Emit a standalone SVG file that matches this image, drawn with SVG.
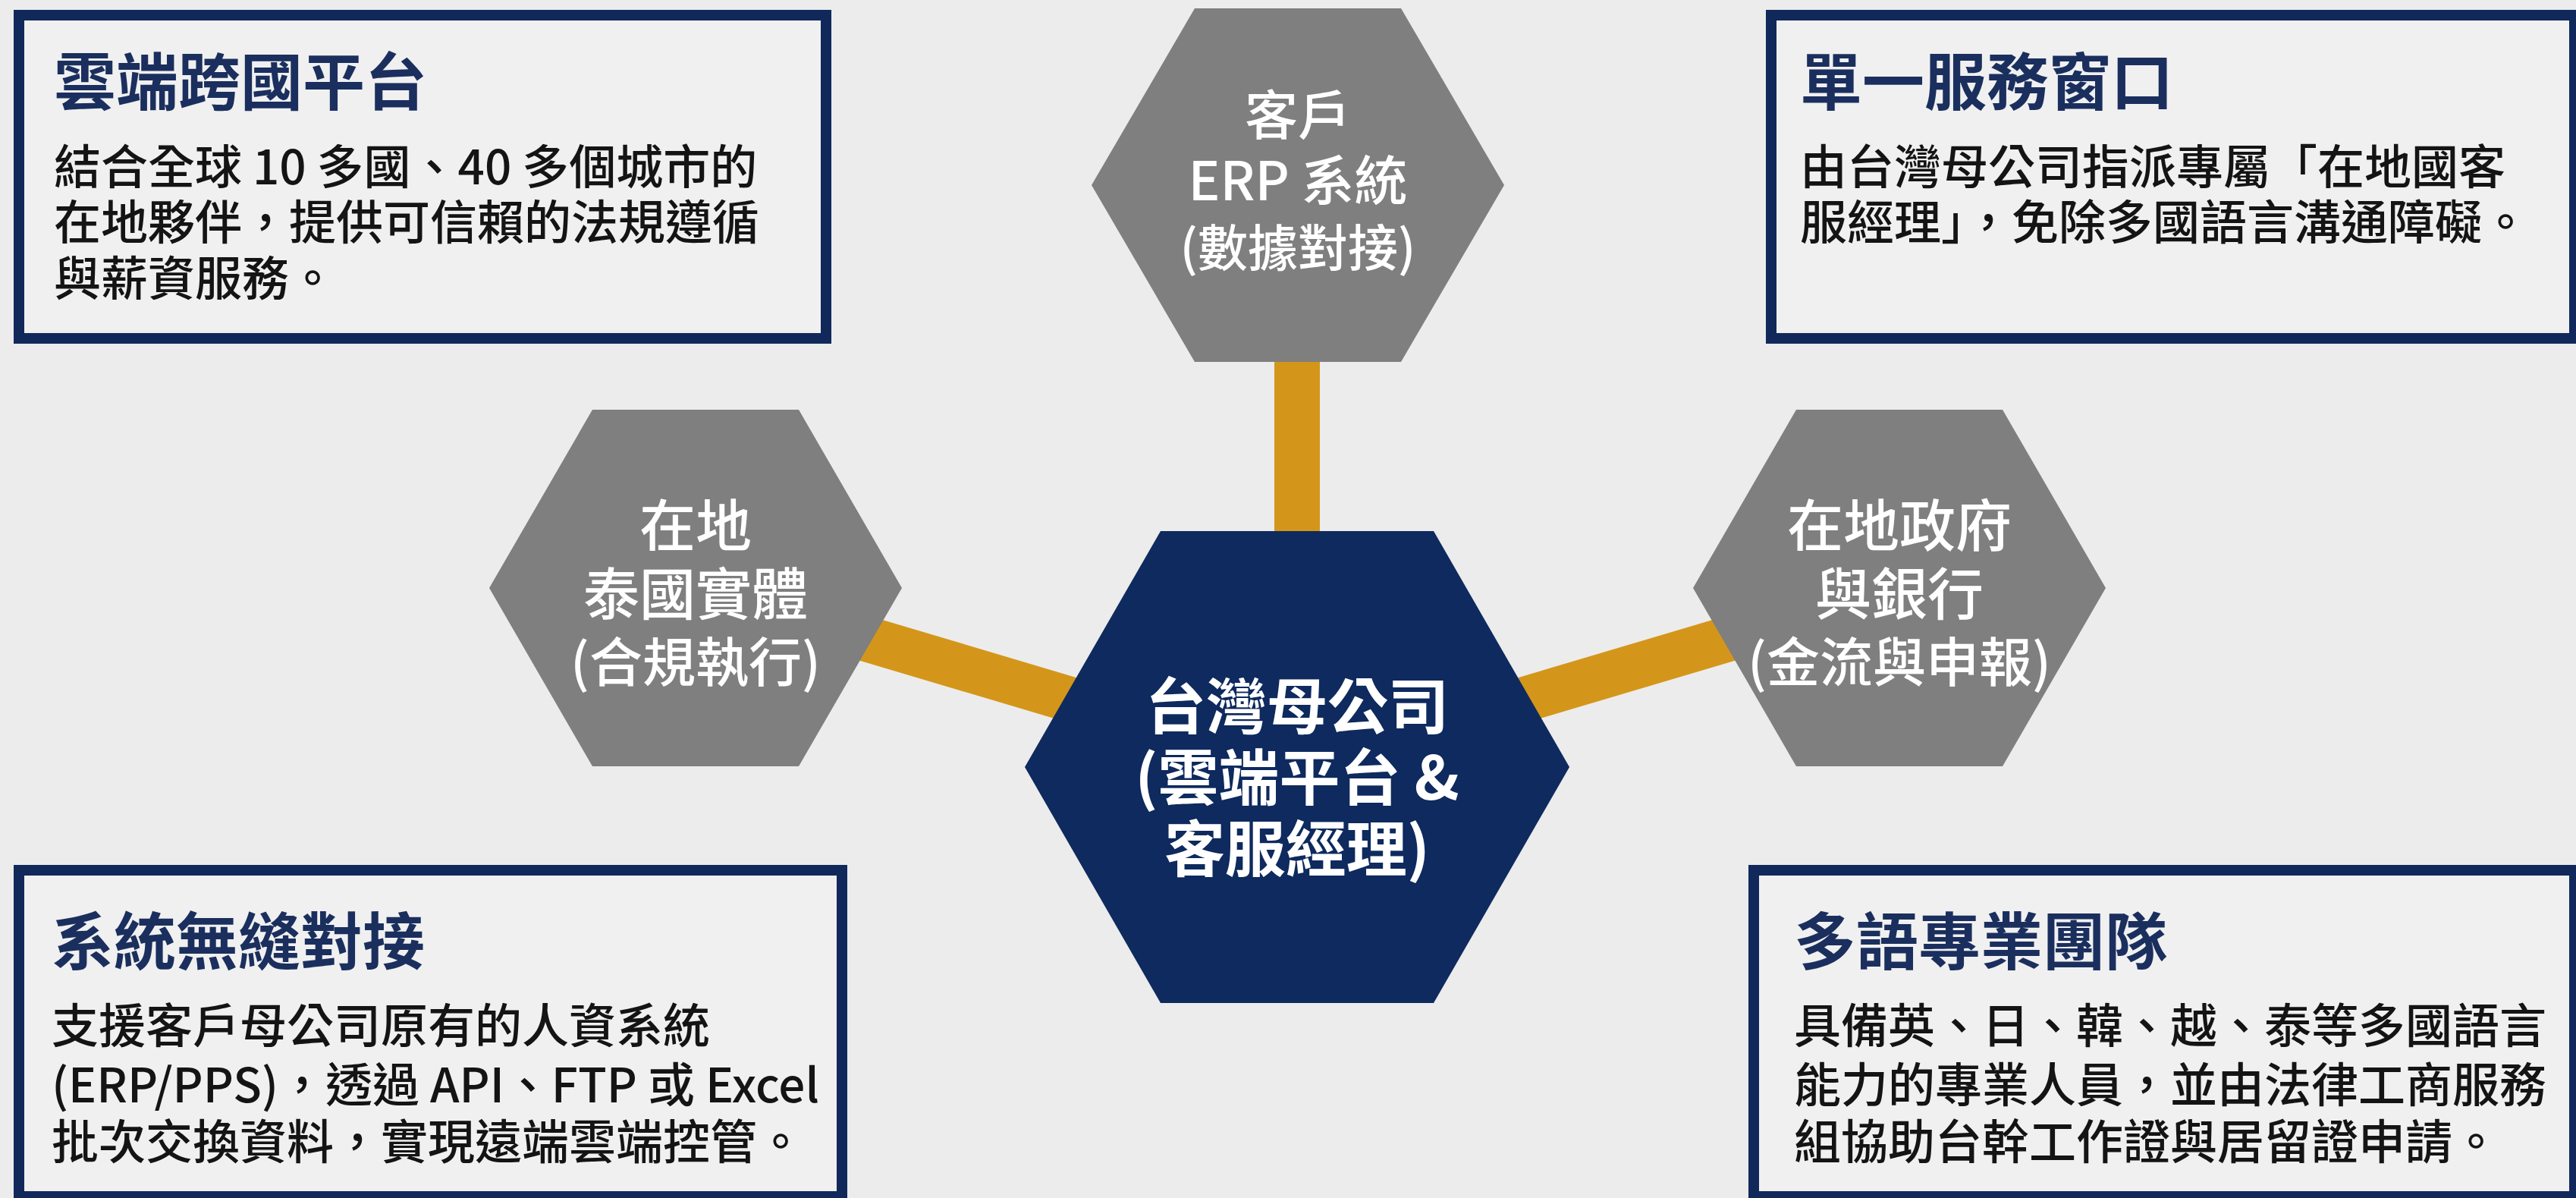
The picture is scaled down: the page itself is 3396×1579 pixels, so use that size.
<svg xmlns="http://www.w3.org/2000/svg" width="3396" height="1579" viewBox="0 0 3396 1579">
  <style>
    .box { fill: #F0F0F0; stroke: #10295A; stroke-width: 14; }
    .title { font-family: "Noto Sans CJK TC", "Noto Sans CJK SC", sans-serif; font-size: 82px; font-weight: 700; fill: #1B2F5E; }
    .body { font-family: "Noto Sans CJK TC", "Noto Sans CJK SC", sans-serif; font-size: 62px; font-weight: 500; fill: #141414; }
    .hex { fill: #7F7F7F; }
    .hexc { fill: #0E2A5E; }
    .hl { font-family: "Noto Sans CJK TC", "Noto Sans CJK SC", sans-serif; font-weight: 500; fill: #FFFFFF; text-anchor: middle; }
    .hlc { font-family: "Noto Sans CJK TC", "Noto Sans CJK SC", sans-serif; font-weight: 700; fill: #FFFFFF; text-anchor: middle; font-size: 80px; }
    .conn { stroke: #D4961A; stroke-width: 60; fill: none; }
  </style>
  <rect x="0" y="0" width="3396" height="1579" fill="#ECECEC"/>

  <g id="connectors">
    <line class="conn" x1="1710" y1="470" x2="1710" y2="1011"/>
    <line class="conn" x1="917" y1="775" x2="1710" y2="1011"/>
    <line class="conn" x1="2504" y1="775" x2="1710" y2="1011"/>
  </g>

  <g id="box-cloud">
    <rect class="box" x="25" y="20" width="1064" height="426"/>
    <text class="title" x="71" y="138">雲端跨國平台</text>
    <text class="body" x="71" y="243">結合全球 10 多國、40 多個城市的</text>
    <text class="body" x="71" y="316">在地夥伴，提供可信賴的法規遵循</text>
    <text class="body" x="71" y="390">與薪資服務。</text>
  </g>

  <g id="box-window">
    <rect class="box" x="2335" y="20" width="1059" height="426"/>
    <text class="title" x="2373" y="138">單一服務窗口</text>
    <text class="body" x="2373" y="243">由台灣母公司指派專屬「在地國客</text>
    <text class="body" x="2373" y="316">服經理」，免除多國語言溝通障礙。</text>
  </g>

  <g id="box-system">
    <rect class="box" x="25" y="1147" width="1085" height="430"/>
    <text class="title" x="68" y="1271">系統無縫對接</text>
    <text class="body" x="68" y="1375">支援客戶母公司原有的人資系統</text>
    <text class="body" x="68" y="1453">(ERP/PPS)，透過 API、FTP 或 Excel</text>
    <text class="body" x="68" y="1528">批次交換資料，實現遠端雲端控管。</text>
  </g>

  <g id="box-team">
    <rect class="box" x="2312" y="1147" width="1082" height="430"/>
    <text class="title" x="2365" y="1271">多語專業團隊</text>
    <text class="body" x="2365" y="1375">具備英、日、韓、越、泰等多國語言</text>
    <text class="body" x="2365" y="1453">能力的專業人員，並由法律工商服務</text>
    <text class="body" x="2365" y="1528">組協助台幹工作證與居留證申請。</text>
  </g>

  <g id="hex-erp">
    <polygon class="hex" points="1439,244 1575,11 1847,11 1983,244 1847,477 1575,477"/>
    <text class="hl" x="1711" y="178" font-size="70">客戶</text>
    <text class="hl" x="1711" y="264" font-size="70">ERP 系統</text>
    <text class="hl" x="1711" y="351" font-size="66">(數據對接)</text>
  </g>

  <g id="hex-thai">
    <polygon class="hex" points="645,775 781,540 1053,540 1189,775 1053,1010 781,1010"/>
    <text class="hl" x="917" y="720" font-size="74">在地</text>
    <text class="hl" x="917" y="810" font-size="74">泰國實體</text>
    <text class="hl" x="917" y="899" font-size="70">(合規執行)</text>
  </g>

  <g id="hex-gov">
    <polygon class="hex" points="2232,775 2368,540 2640,540 2776,775 2640,1010 2368,1010"/>
    <text class="hl" x="2504" y="720" font-size="74">在地政府</text>
    <text class="hl" x="2504" y="810" font-size="74">與銀行</text>
    <text class="hl" x="2504" y="899" font-size="70">(金流與申報)</text>
  </g>

  <g id="hex-hq">
    <polygon class="hexc" points="1351,1011 1530,700 1890,700 2069,1011 1890,1322 1530,1322"/>
    <text class="hlc" x="1710" y="960">台灣母公司</text>
    <text class="hlc" x="1710" y="1054">(雲端平台 &amp;</text>
    <text class="hlc" x="1710" y="1148">客服經理)</text>
  </g>
</svg>
